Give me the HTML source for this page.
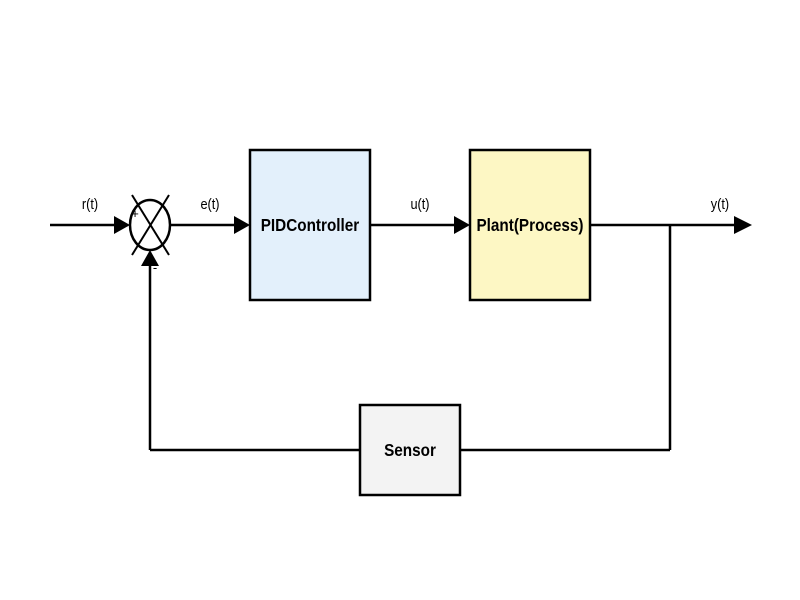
<!DOCTYPE html>
<html><head><meta charset="utf-8"><style>body{margin:0;background:#fff}svg{display:block}</style></head><body>
<svg width="800" height="600" xmlns="http://www.w3.org/2000/svg" font-family="Liberation Sans, sans-serif">
<rect width="800" height="600" fill="#fff"/>
<g stroke="#000" stroke-width="2.5" fill="none">
<line x1="50" y1="225" x2="118" y2="225"/>
<line x1="170" y1="225" x2="236" y2="225"/>
<line x1="370" y1="225" x2="456" y2="225"/>
<line x1="590" y1="225" x2="736" y2="225"/>
<line x1="670" y1="225" x2="670" y2="450"/>
<line x1="460" y1="450" x2="670" y2="450"/>
<line x1="150" y1="450" x2="360" y2="450"/>
<line x1="150" y1="450" x2="150" y2="264"/>
<ellipse cx="150" cy="225" rx="20" ry="25" fill="#fff"/>
<line x1="132" y1="195" x2="169" y2="255" stroke-width="2"/>
<line x1="169" y1="195" x2="132" y2="255" stroke-width="2"/>
<rect x="250" y="150" width="120" height="150" fill="#e3f0fb"/>
<rect x="470" y="150" width="120" height="150" fill="#fdf7c4"/>
<rect x="360" y="405" width="100" height="90" fill="#f3f3f3"/>
</g>
<g fill="#000">
<polygon points="130,225 114,216 114,234"/>
<polygon points="250,225 234,216 234,234"/>
<polygon points="470,225 454,216 454,234"/>
<polygon points="752,225 734,216 734,234"/>
<polygon points="150,250 141,266 159,266"/>
</g>
<g font-size="15" text-anchor="middle">
<text x="90" y="209" transform="translate(90 0) scale(0.85 1) translate(-90 0)">r(t)</text>
<text x="210" y="209" transform="translate(210 0) scale(0.85 1) translate(-210 0)">e(t)</text>
<text x="420" y="209" transform="translate(420 0) scale(0.85 1) translate(-420 0)">u(t)</text>
<text x="720" y="209" transform="translate(720 0) scale(0.85 1) translate(-720 0)">y(t)</text>
<text x="135" y="218" font-size="13">+</text>
<text x="155" y="272" font-size="13">-</text>
</g>
<g font-size="18" font-weight="bold" text-anchor="middle">
<text x="310" y="231" transform="translate(310 0) scale(0.85 1) translate(-310 0)">PIDController</text>
<text x="530" y="231" transform="translate(530 0) scale(0.85 1) translate(-530 0)">Plant(Process)</text>
<text x="410" y="456" transform="translate(410 0) scale(0.85 1) translate(-410 0)">Sensor</text>
</g>
</svg>
</body></html>
